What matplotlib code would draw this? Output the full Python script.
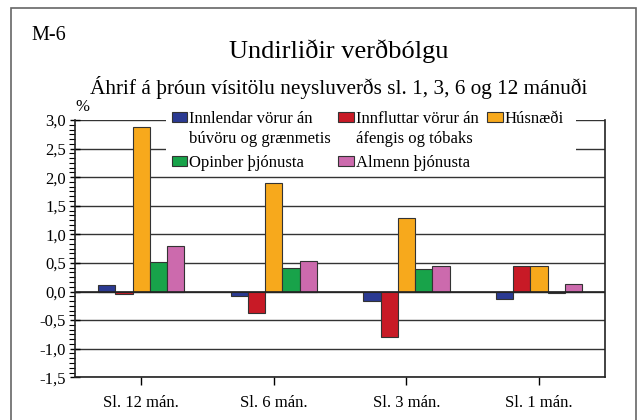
import numpy as np
import matplotlib.pyplot as plt
from matplotlib.patches import Rectangle
from matplotlib.ticker import MultipleLocator, FuncFormatter

plt.rcParams['font.family'] = ['Liberation Serif', 'DejaVu Serif']

# data
periods = ['Sl. 12 mán.', 'Sl. 6 mán.', 'Sl. 3 mán.', 'Sl. 1 mán.']
innlendar = [0.12, -0.08, -0.17, -0.13]
innfluttar = [-0.04, -0.38, -0.80, 0.45]
husnaedi = [2.87, 1.90, 1.28, 0.45]
opinber = [0.51, 0.41, 0.39, -0.03]
almenn = [0.80, 0.54, 0.44, 0.14]

labels = ['Innlendar vörur án\nbúvöru og grænmetis', 'Innfluttar vörur án\náfengis og tóbaks',
          'Húsnæði', 'Opinber þjónusta', 'Almenn þjónusta']
values = [innlendar, innfluttar, husnaedi, opinber, almenn]
colors = ['#2b3a92', '#c81a26', '#f7a91c', '#18a34a', '#cc6aad']

W, H = 638, 420


def fx(px):
    return px / W


def fy(py):
    return 1 - py / H


fig = plt.figure(figsize=(W / 100, H / 100), dpi=100)
ax = fig.add_axes([fx(75), fy(377.3), 530.3 / W, 257.3 / H])

x = np.arange(len(periods))
width = 0.13
for i, vals in enumerate(values):
    ax.bar(x + (i - 2) * width, vals, width, color=colors[i], edgecolor='#333333',
           linewidth=0.8, zorder=3)

ax.set_xlim(-0.5, 3.5)
ax.set_ylim(-1.5, 3.0)
ax.yaxis.set_major_locator(MultipleLocator(0.5))
ax.yaxis.set_minor_locator(MultipleLocator(0.5 / 6))
ax.yaxis.set_major_formatter(FuncFormatter(lambda v, p: f'{v:.1f}'.replace('.', ',')))
ax.set_xticks(x)
ax.set_xticklabels(periods, fontsize=12)
ax.tick_params(axis='y', which='major', labelsize=12, direction='inout', length=7, width=1, pad=3)
ax.tick_params(axis='y', which='minor', direction='out', length=4, width=0.8)
ax.tick_params(axis='x', direction='out', length=6, width=1, pad=7)
ax.grid(axis='y', color='#333333', linewidth=1.0, zorder=1)
ax.axhline(0, color='#222222', linewidth=1.2, zorder=4)
for s in ax.spines.values():
    s.set_linewidth(1.2)
    s.set_color('#222222')
ax.spines['top'].set_visible(False)

fig.text(fx(75), fy(111), '%', fontsize=12, ha='left', va='baseline')

# legend drawn by hand so the swatch sits on the first text line
fig.patches.append(Rectangle((fx(166), fy(173)), (576 - 166) / W, (173 - 104) / H,
                             transform=fig.transFigure, facecolor='white',
                             edgecolor='none', zorder=5))
leg_pos = [(171.7, 0), (338.3, 0), (487, 0), (171.7, 1), (338.3, 1)]
row_base = [122.5, 167]
for (lx, row), lab, col in zip(leg_pos, labels, colors):
    base = row_base[row]
    fig.patches.append(Rectangle((fx(lx), fy(base - 0.5)), 15.5 / W, 10 / H,
                                 transform=fig.transFigure, facecolor=col,
                                 edgecolor='#333333', linewidth=0.8, zorder=6))
    for k, line in enumerate(lab.split('\n')):
        fig.text(fx(lx + 17.5), fy(base + k * 20.8), line, fontsize=12,
                 ha='left', va='baseline', zorder=7)

fig.text(fx(339), fy(57.7), 'Undirliðir verðbólgu', fontsize=19, ha='center', va='baseline')
fig.text(fx(339), fy(94), 'Áhrif á þróun vísitölu neysluverðs sl. 1, 3, 6 og 12 mánuði',
         fontsize=15.3, ha='center', va='baseline')
fig.text(fx(31.7), fy(40), 'M-6', fontsize=14.5, ha='left', va='baseline')

fig.patches.append(Rectangle((fx(10.5), -0.1), (636 - 10.5) / W, 1.1 - 8.5 / H,
                             transform=fig.transFigure, fill=False,
                             edgecolor='#666666', linewidth=1.2))

fig.savefig('out.png', dpi=100)
